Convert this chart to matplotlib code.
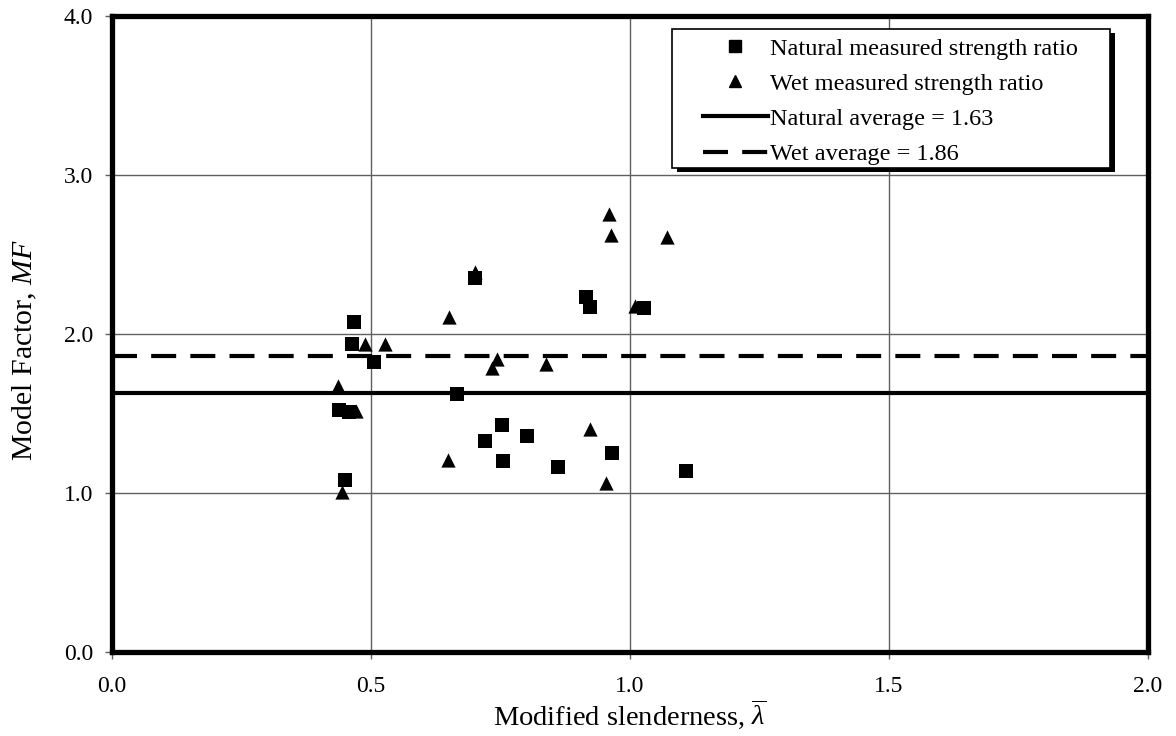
import matplotlib.pyplot as plt
from matplotlib.lines import Line2D
from matplotlib.patches import Rectangle

plt.rcParams['font.family'] = ['Liberation Serif', 'DejaVu Serif']
plt.rcParams['mathtext.fontset'] = 'custom'
plt.rcParams['mathtext.rm'] = 'Liberation Serif'
plt.rcParams['mathtext.it'] = 'Liberation Serif:italic'

# natural (squares)
nat_x = [0.438, 0.457, 0.450, 0.463, 0.468, 0.505, 0.666, 0.700, 0.721, 0.753,
         0.755, 0.801, 0.862, 0.915, 0.923, 0.965, 1.028, 1.108]
nat_y = [1.525, 1.510, 1.080, 1.935, 2.074, 1.826, 1.623, 2.350, 1.327, 1.430,
         1.199, 1.358, 1.162, 2.235, 2.172, 1.254, 2.162, 1.140]

# wet (triangles)
wet_x = [0.437, 0.444, 0.472, 0.488, 0.528, 0.648, 0.651, 0.700, 0.734, 0.743,
         0.838, 0.923, 0.954, 0.960, 0.963, 1.010, 1.071]
wet_y = [1.673, 1.006, 1.516, 1.940, 1.940, 1.208, 2.105, 2.390, 1.784, 1.843,
         1.811, 1.400, 1.061, 2.753, 2.623, 2.176, 2.608]

nat_avg = 1.63
wet_avg = 1.86

fig = plt.figure(figsize=(11.76, 7.36), dpi=100)
ax = fig.add_axes([0.0952, 0.1141, 0.8810, 0.8641])

ax.set_xlim(0, 2.0)
ax.set_ylim(0, 4.0)
ax.set_xticks([0, 0.5, 1.0, 1.5, 2.0])
ax.set_yticks([0, 1, 2, 3, 4])
ax.xaxis.set_major_formatter(plt.FormatStrFormatter('%.1f'))
ax.yaxis.set_major_formatter(plt.FormatStrFormatter('%.1f'))
ax.grid(True, color='#606060', linewidth=1.0)
ax.set_axisbelow(True)
ax.tick_params(direction='out', length=5, width=1, color='#606060', labelsize=17)
ax.tick_params(axis='x', pad=12.5)
ax.tick_params(axis='y', pad=8.5)
for s in ax.spines.values():
    s.set_linewidth(3.8)

dash = (0, (6, 3.4))
ax.axhline(nat_avg, color='black', lw=3, zorder=2)
ax.axhline(wet_avg, color='black', lw=3, ls=dash, zorder=2)
ax.scatter(nat_x, nat_y, marker='s', s=95, color='black', zorder=3, linewidths=0)
ax.scatter(wet_x, wet_y, marker='^', s=105, color='black', zorder=3, linewidths=0)

ax.set_xlabel(r'Modified slenderness, $\overline{\lambda}$', fontsize=20.5)
ax.xaxis.set_label_coords(0.5, -0.072)
ax.set_ylabel(r'Model Factor, $MF$', fontsize=21.5)
ax.yaxis.set_label_coords(-0.0705, 0.475)

# legend box with offset shadow
ax.add_patch(Rectangle((0.5453, 0.7547), 0.4228, 0.2187, transform=ax.transAxes,
                       facecolor='black', edgecolor='none', zorder=4))
ax.add_patch(Rectangle((0.5405, 0.7610), 0.4228, 0.2186, transform=ax.transAxes,
                       facecolor='white', edgecolor='black', lw=1.2, zorder=5))

handles = [
    Line2D([], [], ls='none', marker='s', color='black', markersize=8.5),
    Line2D([], [], ls='none', marker='^', color='black', markersize=9),
    Line2D([], [], color='black', lw=3),
    Line2D([], [], color='black', lw=3, ls=dash),
]
labels = ['Natural measured strength ratio', 'Wet measured strength ratio',
          'Natural average = 1.63', 'Wet average = 1.86']
leg = ax.legend(handles, labels, loc='upper left', bbox_to_anchor=(0.5705, 0.966),
                fontsize=17.5, frameon=False, handlelength=2.67,
                handletextpad=0.1, borderpad=0, labelspacing=0.54,
                borderaxespad=0)
leg.set_zorder(6)

fig.savefig('out.png', dpi=100)
